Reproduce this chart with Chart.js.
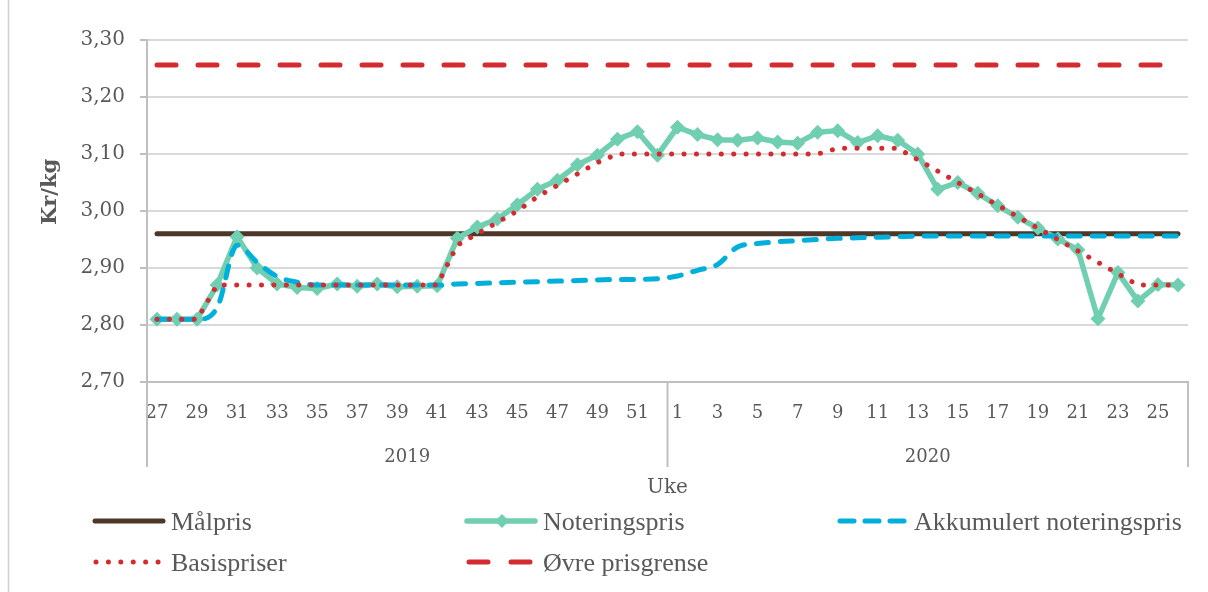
<!DOCTYPE html>
<html>
<head>
<meta charset="utf-8">
<script src="https://cdn.jsdelivr.net/npm/chart.js@4.4.1/dist/chart.umd.min.js"></script>
<style>
  html, body { margin: 0; padding: 0; background: #ffffff; }
  #wrap { position: relative; width: 1208px; height: 592px; }
</style>
</head>
<body>
<div id="wrap"><canvas id="c"></canvas></div>
<script>
// ---------- DATA ----------
const weeks2019 = [27,28,29,30,31,32,33,34,35,36,37,38,39,40,41,42,43,44,45,46,47,48,49,50,51,52];
const weeks2020 = [1,2,3,4,5,6,7,8,9,10,11,12,13,14,15,16,17,18,19,20,21,22,23,24,25,26];
const years = ['2019', '2020'];
const yTicks = [2.70, 2.80, 2.90, 3.00, 3.10, 3.20, 3.30];

const malpris = [
  2.96,2.96,2.96,2.96,2.96,2.96,2.96,2.96,2.96,2.96,2.96,2.96,2.96,2.96,2.96,2.96,2.96,2.96,2.96,2.96,2.96,2.96,2.96,2.96,2.96,2.96,
  2.96,2.96,2.96,2.96,2.96,2.96,2.96,2.96,2.96,2.96,2.96,2.96,2.96,2.96,2.96,2.96,2.96,2.96,2.96,2.96,2.96,2.96,2.96,2.96,2.96,2.96
];
const noteringspris = [
  2.81,2.81,2.81,2.87,2.955,2.90,2.872,2.866,2.864,2.872,2.868,2.872,2.867,2.868,2.869,2.952,2.972,2.986,3.011,3.038,3.054,3.081,3.098,3.126,3.139,3.098,
  3.147,3.134,3.125,3.124,3.128,3.121,3.119,3.138,3.141,3.120,3.132,3.124,3.100,3.038,3.050,3.031,3.009,2.989,2.970,2.951,2.932,2.811,2.892,2.842,2.871,2.870
];
const akkumulert = [
  2.81,2.81,2.81,2.83,2.94,2.91,2.885,2.875,2.87,2.87,2.87,2.87,2.87,2.87,2.87,2.872,2.873,2.874,2.875,2.876,2.877,2.878,2.879,2.880,2.880,2.881,
  2.886,2.896,2.906,2.937,2.943,2.946,2.948,2.950,2.952,2.953,2.954,2.955,2.956,2.956,2.956,2.956,2.956,2.956,2.956,2.956,2.956,2.956,2.956,2.956,2.956,2.956
];
const basispriser = [
  2.81,2.81,2.81,2.87,2.87,2.87,2.87,2.87,2.87,2.87,2.87,2.87,2.87,2.87,2.87,2.94,2.96,2.98,3.00,3.025,3.045,3.065,3.085,3.10,3.10,3.10,
  3.10,3.10,3.10,3.10,3.10,3.10,3.10,3.10,3.11,3.11,3.11,3.11,3.09,3.07,3.05,3.03,3.01,2.99,2.97,2.95,2.93,2.91,2.89,2.87,2.87,2.87
];
const ovrePrisgrense = [
  3.256,3.256,3.256,3.256,3.256,3.256,3.256,3.256,3.256,3.256,3.256,3.256,3.256,3.256,3.256,3.256,3.256,3.256,3.256,3.256,3.256,3.256,3.256,3.256,3.256,3.256,
  3.256,3.256,3.256,3.256,3.256,3.256,3.256,3.256,3.256,3.256,3.256,3.256,3.256,3.256,3.256,3.256,3.256,3.256,3.256,3.256,3.256,3.256,3.256,3.256,3.256,3.256
];

const labels = weeks2019.concat(weeks2020).map(String);

// ---------- STYLE ----------
const TXT = '#595959';
const AXIS = '#bfbfbf';
const GRID = '#d9d9d9';
const BROWN = '#4e3629';
const GREEN = '#6fcfb0';
const BLUE = '#00b0da';
const RED = '#d42a30';
const TICKFONT = "'DejaVu Serif', serif";
const LEGFONT = "'Liberation Serif', serif";

const styles = {
  malpris:  { color: BROWN, width: 5, dash: [], cap: 'round' },
  noter:    { color: GREEN, width: 5.5, dash: [], cap: 'round' },
  akk:      { color: BLUE,  width: 5, dash: [12, 12], cap: 'round' },
  basis:    { color: RED,   width: 5, dash: [0.01, 12.4], cap: 'round' },
  ovre:     { color: RED,   width: 5, dash: [19, 22], cap: 'round' }
};

const decor = {
  id: 'decor',
  beforeDraw(chart) {
    const ctx = chart.ctx;
    ctx.save();
    ctx.fillStyle = '#ffffff';
    ctx.fillRect(0, 0, chart.width, chart.height);
    ctx.restore();
  },
  afterDraw(chart) {
    const ctx = chart.ctx;
    const ca = chart.chartArea;
    const xs = chart.scales.x;
    ctx.save();

    // outer frame line at left
    ctx.strokeStyle = '#d0d0d0';
    ctx.lineWidth = 1.5;
    ctx.beginPath(); ctx.moveTo(8.5, 0); ctx.lineTo(8.5, chart.height); ctx.stroke();

    // group separators
    const n1 = weeks2019.length;
    const mid = (xs.getPixelForValue(n1 - 1) + xs.getPixelForValue(n1)) / 2;
    const seps = [ca.left, mid, ca.right];
    ctx.strokeStyle = AXIS;
    ctx.lineWidth = 2;
    seps.forEach(sx => {
      ctx.beginPath(); ctx.moveTo(sx, ca.bottom); ctx.lineTo(sx, ca.bottom + 85); ctx.stroke();
    });

    // year labels
    ctx.fillStyle = TXT;
    ctx.font = "18px " + TICKFONT;
    ctx.textAlign = 'center';
    ctx.textBaseline = 'middle';
    ctx.fillText(years[0], (seps[0] + seps[1]) / 2, 457);
    ctx.fillText(years[1], (seps[1] + seps[2]) / 2, 457);

    // x title
    ctx.font = "20px " + TICKFONT;
    ctx.fillText('Uke', mid, 488);

    // y title
    ctx.save();
    ctx.translate(51, 192);
    ctx.rotate(-Math.PI / 2);
    ctx.font = "bold 21px " + TICKFONT;
    ctx.fillText('Kr/kg', 0, 0);
    ctx.restore();

    // legend
    const items = [
      { label: 'Målpris', s: styles.malpris, x: 95, y: 521 },
      { label: 'Noteringspris', s: styles.noter, x: 467, y: 521, marker: true },
      { label: 'Akkumulert noteringspris', s: styles.akk, x: 838, y: 521 },
      { label: 'Basispriser', s: styles.basis, x: 95, y: 562 },
      { label: 'Øvre prisgrense', s: styles.ovre, x: 467, y: 562 }
    ];
    items.forEach(it => {
      ctx.save();
      ctx.strokeStyle = it.s.color;
      ctx.lineWidth = it.s.width;
      ctx.lineCap = it.s.cap;
      ctx.setLineDash(it.s.dash);
      let x0 = it.x, x1 = it.x + 68;
      if (it.label === 'Akkumulert noteringspris') { x0 = it.x + 2; ctx.setLineDash([14, 11]); x1 = it.x + 66; }
      if (it.label === 'Øvre prisgrense') { ctx.setLineDash([19, 23]); x0 = it.x + 2; x1 = it.x + 68; }
      if (it.label === 'Basispriser') { x0 = it.x + 1; x1 = it.x + 64; }
      ctx.beginPath(); ctx.moveTo(x0, it.y); ctx.lineTo(x1, it.y); ctx.stroke();
      if (it.marker) {
        ctx.setLineDash([]);
        ctx.fillStyle = it.s.color;
        const cx = it.x + 35, r = 7;
        ctx.beginPath();
        ctx.moveTo(cx - r, it.y); ctx.lineTo(cx, it.y - r); ctx.lineTo(cx + r, it.y); ctx.lineTo(cx, it.y + r);
        ctx.closePath(); ctx.fill();
      }
      ctx.restore();
      ctx.fillStyle = TXT;
      ctx.font = "26px " + LEGFONT;
      ctx.textAlign = 'left';
      ctx.textBaseline = 'alphabetic';
      ctx.fillText(it.label, it.x + 76, it.y + 9);
    });

    ctx.restore();
  }
};

function ds(label, data, s, order, extra) {
  return Object.assign({
    label: label,
    data: data,
    borderColor: s.color,
    backgroundColor: s.color,
    borderWidth: s.width,
    borderDash: s.dash,
    borderCapStyle: s.cap,
    borderJoinStyle: 'round',
    pointRadius: 0,
    pointHoverRadius: 0,
    tension: 0,
    fill: false,
    order: order
  }, extra || {});
}

new Chart(document.getElementById('c'), {
  type: 'line',
  data: {
    labels: labels,
    datasets: [
      ds('Øvre prisgrense', ovrePrisgrense, styles.ovre, 1),
      ds('Basispriser', basispriser, styles.basis, 2),
      ds('Akkumulert noteringspris', akkumulert, styles.akk, 3, { cubicInterpolationMode: 'monotone' }),
      ds('Noteringspris', noteringspris, styles.noter, 4, {
        pointStyle: 'rectRot', pointRadius: 7.5, pointBorderWidth: 0,
        pointBackgroundColor: GREEN, pointBorderColor: GREEN
      }),
      ds('Målpris', malpris, styles.malpris, 5)
    ]
  },
  options: {
    responsive: true,
    maintainAspectRatio: false,
    animation: false,
    events: [],
    layout: { padding: { top: 40, right: 20, left: 0, bottom: 0 } },
    plugins: { legend: { display: false }, tooltip: { enabled: false }, title: { display: false } },
    scales: {
      x: {
        type: 'category',
        offset: true,
        afterFit(scale) { scale.height = 210; },
        grid: { display: false, drawTicks: false },
        border: { display: true, color: AXIS, width: 2 },
        ticks: {
          autoSkip: false,
          maxRotation: 0,
          minRotation: 0,
          padding: 21,
          color: TXT,
          font: { family: TICKFONT, size: 18 },
          callback: function(v, i) { return i % 2 === 0 ? this.getLabelForValue(v) : ''; }
        }
      },
      y: {
        min: 2.70,
        max: 3.30,
        afterFit(scale) { scale.width = 147; },
        afterBuildTicks(scale) { scale.ticks = yTicks.map(v => ({ value: v })); },
        grid: { color: GRID, lineWidth: 2, drawTicks: true, tickLength: 7, tickColor: AXIS, tickWidth: 2 },
        border: { display: true, color: AXIS, width: 2 },
        ticks: {
          padding: 15,
          color: TXT,
          font: { family: TICKFONT, size: 20 },
          callback: v => Number(v).toFixed(2).replace('.', ',')
        }
      }
    }
  },
  plugins: [decor]
});
</script>
</body>
</html>
